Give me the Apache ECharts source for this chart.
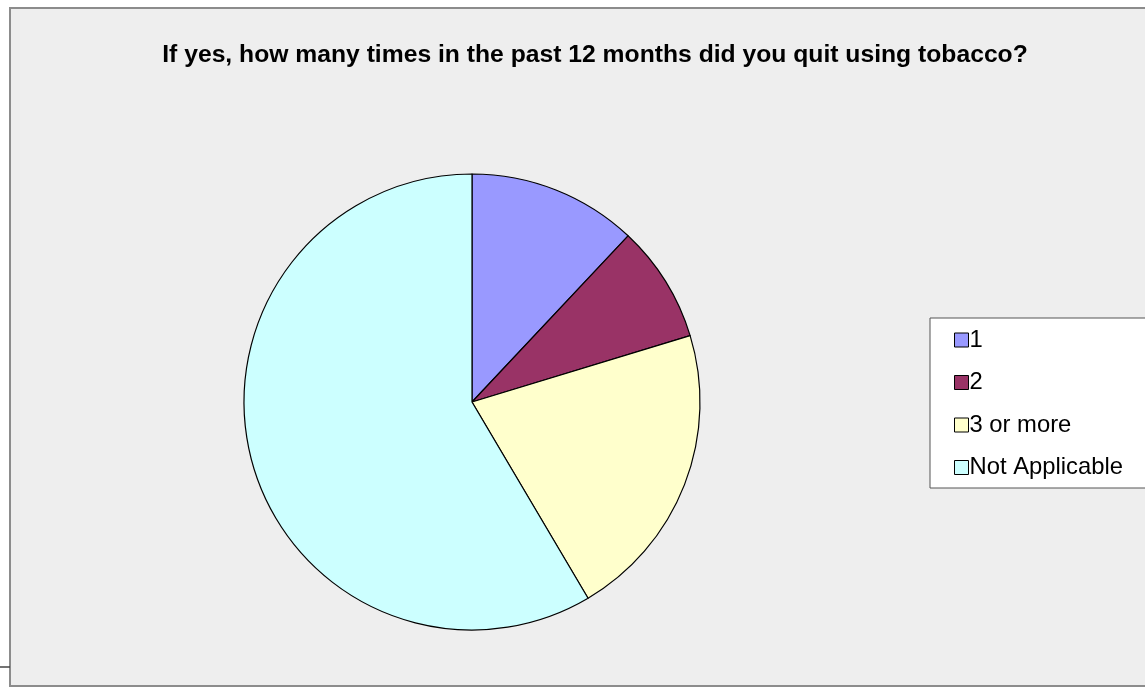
<!DOCTYPE html>
<html>
<head>
<meta charset="utf-8">
<script src="https://cdn.jsdelivr.net/npm/echarts@6/dist/echarts.min.js"></script>
<style>
html,body{margin:0;padding:0;background:#fff;}
#main{width:1145px;height:688px;}
</style>
</head>
<body>
<div id="main"></div>
<script>
const titleText = 'If yes, how many times in the past 12 months did you quit using tobacco?';
const categories = ['1', '2', '3 or more', 'Not Applicable'];
const percents = [12.0, 8.3, 21.2, 58.5];
const colors = ['#9999FF', '#993366', '#FFFFCC', '#CCFFFF'];

const chart = echarts.init(document.getElementById('main'));
chart.setOption({
  backgroundColor: '#ffffff',
  animation: false,
  graphic: [
    {type: 'rect', z: -10, shape: {x: 10, y: 8, width: 1145, height: 678},
     style: {fill: '#eeeeee', stroke: '#8c8c8c', lineWidth: 2}},
    {type: 'line', z: -9, shape: {x1: 0, y1: 667, x2: 10, y2: 667},
     style: {stroke: '#444', lineWidth: 1.5}},
    {type: 'rect', z: -5, shape: {x: 930, y: 318, width: 230, height: 170},
     style: {fill: '#ffffff', stroke: '#555555', lineWidth: 1}}
  ],
  title: {
    text: titleText,
    left: 590, textAlign: 'center', top: 38,
    textStyle: {fontFamily: 'Liberation Sans', fontWeight: 'bold', fontSize: 24.7, color: '#000'}
  },
  legend: {
    orient: 'vertical',
    left: 949, top: 323,
    itemWidth: 14, itemHeight: 14, itemGap: 18.5,
    icon: 'rect',
    data: categories,
    textStyle: {fontFamily: 'Liberation Sans', fontSize: 23.8, color: '#000', padding: [0,0,0,-4], lineHeight: 24},
    itemStyle: {borderColor: '#000', borderWidth: 1}
  },
  series: [{
    type: 'pie',
    center: [472, 402],
    radius: 228,
    startAngle: 90,
    clockwise: true,
    label: {show: false},
    labelLine: {show: false},
    emphasis: {disabled: true},
    itemStyle: {borderColor: '#000', borderWidth: 1.2},
    data: categories.map((c, i) => ({name: c, value: percents[i], itemStyle: {color: colors[i]}}))
  }]
});
</script>
</body>
</html>
